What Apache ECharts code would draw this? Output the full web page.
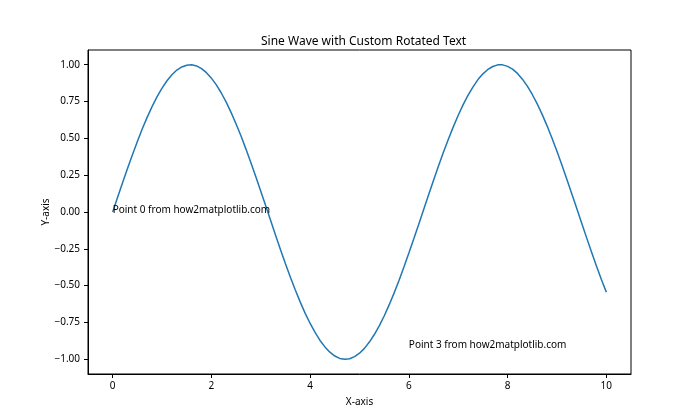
<!DOCTYPE html>
<html><head><meta charset="utf-8">
<script src="https://cdn.jsdelivr.net/npm/echarts@6/dist/echarts.min.js"></script>
<style>html,body{margin:0;padding:0;background:#fff}#c{width:700px;height:420px}</style>
</head><body><div id="c"></div>
<script>
const xValues = [0.0,0.1,0.2,0.3,0.4,0.5,0.6,0.7,0.8,0.9,1.0,1.1,1.2,1.3,1.4,1.5,1.6,1.7,1.8,1.9,2.0,2.1,2.2,2.3,2.4,2.5,2.6,2.7,2.8,2.9,3.0,3.1,3.2,3.3,3.4,3.5,3.6,3.7,3.8,3.9,4.0,4.1,4.2,4.3,4.4,4.5,4.6,4.7,4.8,4.9,5.0,5.1,5.2,5.3,5.4,5.5,5.6,5.7,5.8,5.9,6.0,6.1,6.2,6.3,6.4,6.5,6.6,6.7,6.8,6.9,7.0,7.1,7.2,7.3,7.4,7.5,7.6,7.7,7.8,7.9,8.0,8.1,8.2,8.3,8.4,8.5,8.6,8.7,8.8,8.9,9.0,9.1,9.2,9.3,9.4,9.5,9.6,9.7,9.8,9.9,10.0];
const yValues = [0.000,0.100,0.199,0.296,0.389,0.479,0.565,0.644,0.717,0.783,0.841,0.891,0.932,0.964,0.985,0.997,1.000,0.992,0.974,0.946,0.909,0.863,0.808,0.746,0.675,0.598,0.516,0.427,0.335,0.239,0.141,0.042,-0.058,-0.158,-0.256,-0.351,-0.443,-0.530,-0.612,-0.688,-0.757,-0.818,-0.872,-0.916,-0.952,-0.978,-0.994,-1.000,-0.996,-0.982,-0.959,-0.926,-0.883,-0.832,-0.773,-0.706,-0.631,-0.551,-0.465,-0.374,-0.279,-0.182,-0.083,0.017,0.117,0.215,0.312,0.405,0.494,0.578,0.657,0.729,0.794,0.850,0.899,0.938,0.968,0.988,0.999,0.999,0.989,0.970,0.941,0.902,0.855,0.798,0.734,0.663,0.585,0.501,0.412,0.319,0.223,0.124,0.025,-0.075,-0.174,-0.272,-0.366,-0.458,-0.544];
const xTicks = [0,2,4,6,8,10];
const yTicks = [-1.00,-0.75,-0.50,-0.25,0.00,0.25,0.50,0.75,1.00];
const annotX = [0,6];
const annotY = [0.00,-0.92];
const annotText = ['Point 0 from how2matplotlib.com','Point 3 from how2matplotlib.com'];
const titleText = 'Sine Wave with Custom Rotated Text';
const xName = 'X-axis', yName = 'Y-axis';

const FONT = 'Noto Sans';
const chart = echarts.init(document.getElementById('c'), null, {renderer:'canvas'});
chart.setOption({
  animation:false,
  backgroundColor:'#fff',
  title:{text:titleText,left:256,top:31,textStyle:{fontFamily:FONT,fontSize:12,fontWeight:'normal',color:'#000'}},
  grid:{left:88,right:69,top:50,bottom:46,show:true,borderColor:'#000',borderWidth:1,backgroundColor:'transparent'},
  xAxis:{type:'value',min:-0.5,max:10.5,name:xName,nameLocation:'middle',nameGap:23,nameMoveOverlap:false,
    nameTextStyle:{fontFamily:FONT,fontSize:10,color:'#000'},
    splitLine:{show:false},
    axisLine:{show:true,onZero:false,lineStyle:{color:'#000',width:1}},
    axisTick:{show:true,length:4,lineStyle:{color:'#000'},customValues:xTicks},
    axisLabel:{fontFamily:FONT,fontSize:10,color:'#000',margin:7,customValues:xTicks,formatter:v=>String(v)}},
  yAxis:{type:'value',min:-1.1,max:1.1,name:yName,nameLocation:'middle',nameGap:37,nameRotate:90,nameMoveOverlap:false,
    nameTextStyle:{fontFamily:FONT,fontSize:10,color:'#000'},
    splitLine:{show:false},
    axisLine:{show:true,onZero:false,lineStyle:{color:'#000',width:1}},
    axisTick:{show:true,length:4,lineStyle:{color:'#000'},customValues:yTicks},
    axisLabel:{fontFamily:FONT,fontSize:10,color:'#000',margin:8,customValues:yTicks,
      formatter:v=>(v<0?'\u2212':'')+Math.abs(v).toFixed(2)}},
  series:[
    {type:'line',data:xValues.map((x,i)=>[x,yValues[i]]),showSymbol:false,smooth:false,
     lineStyle:{color:'#1f77b4',width:1.5},itemStyle:{color:'#1f77b4'},z:2},
    {type:'scatter',symbolSize:0,data:annotX.map((x,i)=>[x,annotY[i]]),z:3,
     itemStyle:{opacity:1},
     label:{show:true,position:[0,0],align:'left',verticalAlign:'bottom',offset:[0,3],
       fontFamily:FONT,fontSize:10,color:'#000',opacity:1,formatter:p=>annotText[p.dataIndex]}}
  ]
});
</script></body></html>
